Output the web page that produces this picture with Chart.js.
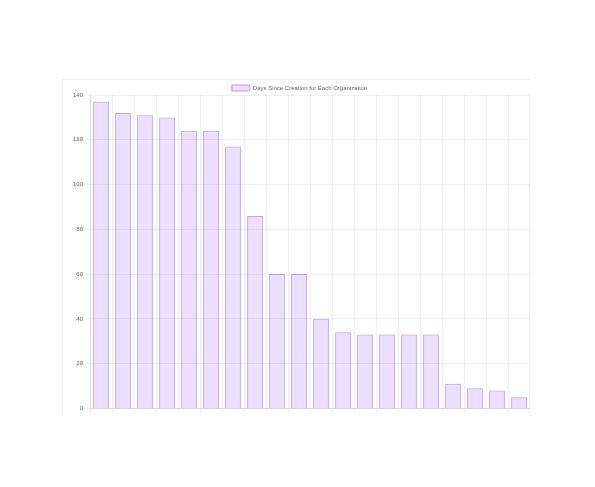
<!DOCTYPE html>
<html>
<head>
<meta charset="utf-8">
<script src="https://cdn.jsdelivr.net/npm/chart.js@4.4.0/dist/chart.umd.min.js"></script>
<style>
  html, body { margin: 0; padding: 0; background: #fff; }
  #wrap { position: absolute; left: 62px; top: 79px; width: 468px; height: 337px;
          border-top: 1px solid #f0f0f0; border-left: 1px solid #f0f0f0; box-sizing: border-box; }
  canvas { display: block; }
</style>
</head>
<body>
<div id="wrap"><canvas id="c"></canvas></div>
<script>
const categories = ["Org 1","Org 2","Org 3","Org 4","Org 5","Org 6","Org 7","Org 8","Org 9","Org 10",
                    "Org 11","Org 12","Org 13","Org 14","Org 15","Org 16","Org 17","Org 18","Org 19","Org 20"];
const daysSinceCreation = [137,132,131,130,124,124,117,86,60,60,40,34,33,33,33,33,11,9,8,5];
const yTicks = [0,20,40,60,80,100,120,140];
const seriesLabel = "Days Since Creation for Each Organization";

const shrinkLegend = {
  id: 'shrinkLegend',
  beforeInit(chart) {
    const lg = chart.legend;
    if (lg) {
      const f = lg.fit;
      lg.fit = function () { f.call(this); this.height -= 6; };
    }
  }
};

new Chart(document.getElementById('c'), {
  type: 'bar',
  data: {
    labels: categories,
    datasets: [{
      label: seriesLabel,
      data: daysSinceCreation,
      backgroundColor: 'rgba(153,102,255,0.2)',
      borderColor: 'rgba(153,102,255,0.6)',
      borderWidth: 1
    }]
  },
  plugins: [shrinkLegend],
  options: {
    responsive: true,
    maintainAspectRatio: false,
    animation: false,
    layout: { padding: { left: 6, right: 0, top: 2, bottom: 0 } },
    plugins: {
      legend: {
        labels: {
          boxWidth: 18, boxHeight: 6, padding: 3,
          color: '#666',
          font: { family: 'Liberation Sans, Arial, sans-serif', size: 6 }
        }
      },
      tooltip: { enabled: false }
    },
    scales: {
      x: {
        ticks: { display: false },
        grid: { color: 'rgba(0,0,0,0.06)', tickLength: 4 },
        border: { color: 'rgba(0,0,0,0.1)' }
      },
      y: {
        min: 0, max: 140,
        afterBuildTicks: (s) => { s.ticks = yTicks.map(v => ({ value: v })); },
        ticks: { color: '#666', padding: 4, font: { family: 'Liberation Sans, Arial, sans-serif', size: 6 } },
        grid: { color: 'rgba(0,0,0,0.06)', tickLength: 3 },
        border: { color: 'rgba(0,0,0,0.1)' }
      }
    }
  }
});
</script>
</body>
</html>
